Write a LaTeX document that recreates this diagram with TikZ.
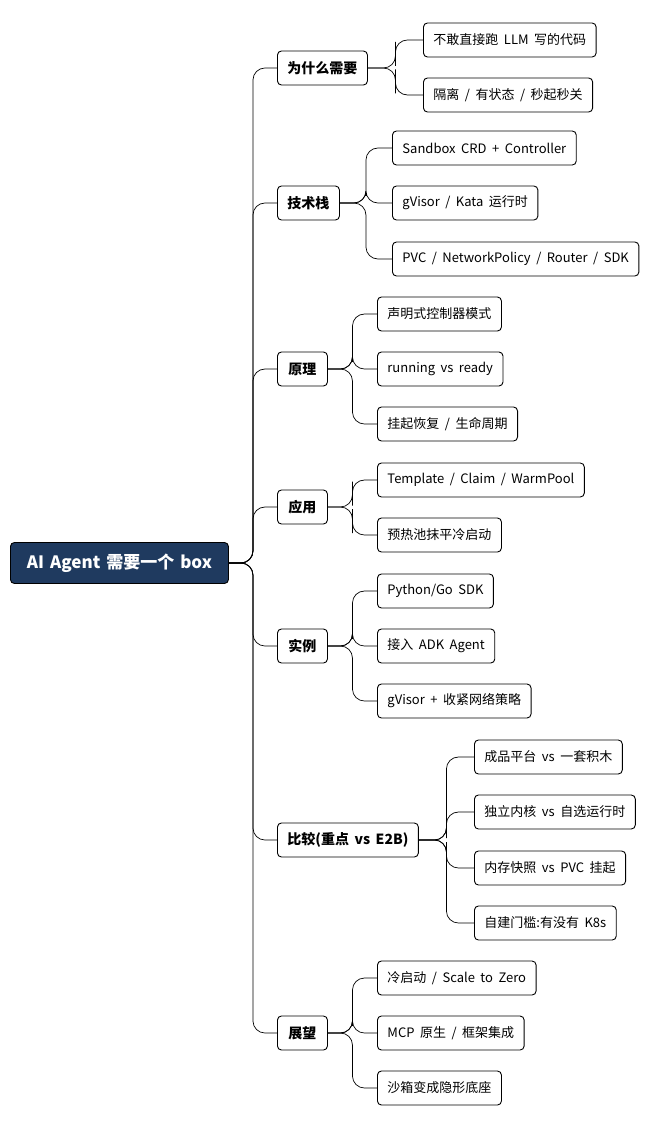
\documentclass[tikz,border=0pt]{standalone}
\usepackage{fontspec}
\setmainfont{Noto Sans CJK SC}
\usetikzlibrary{calc}
\definecolor{rootblue}{HTML}{1F3A5F}
\newcommand\leaffont{\fontsize{13}{15}\selectfont\spaceskip 5.5pt\relax}
\newcommand\branchfont{\fontsize{14}{16}\selectfont\bfseries\spaceskip 5.5pt\relax}
\newcommand\rootfont{\fontsize{17}{19}\selectfont\bfseries\spaceskip 6pt\relax}
\tikzset{
  leaf/.style={draw, rounded corners=4pt, anchor=west, inner xsep=10pt, minimum height=34pt, font=\leaffont, line width=0.9pt},
  branch/.style={leaf, minimum width=50pt, font=\branchfont},
  root/.style={leaf, fill=rootblue, text=white, minimum height=41pt, minimum width=218pt, font=\rootfont},
  link/.style={line width=0.7pt, rounded corners=12pt}
}
\begin{document}
\begin{tikzpicture}[x=1pt,y=-1pt]
	\useasboundingbox (0,0) rectangle (658,1126);
	
	\node[root] (ai) at (10,563) {AI Agent 需要一个 box};
	
	\node[branch] (why) at (277,68) {为什么需要};
	\node[branch] (tech) at (277,203) {技术栈};
	\node[branch] (prin) at (277,369) {原理};
	\node[branch] (app) at (277,507) {应用};
	\node[branch] (ex) at (277,646) {实例};
	\node[branch] (cmp) at (277,840) {比较(重点 vs E2B)};
	\node[branch] (out) at (277,1033) {展望};
	
	\node[leaf] (why1) at (423,40) {不敢直接跑 LLM 写的代码};
	\node[leaf] (why2) at (423,95) {隔离 / 有状态 / 秒起秒关};
	
	\node[leaf] (tech1) at (392,148) {Sandbox CRD + Controller};
	\node[leaf] (tech2) at (392,203) {gVisor / Kata 运行时};
	\node[leaf] (tech3) at (392,259) {PVC / NetworkPolicy / Router / SDK};
	
	\node[leaf] (prin1) at (377,314) {声明式控制器模式};
	\node[leaf] (prin2) at (377,369) {running vs ready};
	\node[leaf] (prin3) at (377,424) {挂起恢复 / 生命周期};
	
	\node[leaf] (app1) at (377,480) {Template / Claim / WarmPool};
	\node[leaf] (app2) at (377,535) {预热池抹平冷启动};
	
	\node[leaf] (ex1) at (377,591) {Python/Go SDK};
	\node[leaf] (ex2) at (377,646) {接入 ADK Agent};
	\node[leaf] (ex3) at (377,701) {gVisor + 收紧网络策略};
	
	\node[leaf] (cmp1) at (474,757) {成品平台 vs 一套积木};
	\node[leaf] (cmp2) at (474,812) {独立内核 vs 自选运行时};
	\node[leaf] (cmp3) at (474,868) {内存快照 vs PVC 挂起};
	\node[leaf] (cmp4) at (474,923) {自建门槛:有没有 K8s};
	
	\node[leaf] (out1) at (377,978) {冷启动 / Scale to Zero};
	\node[leaf] (out2) at (377,1033) {MCP 原生 / 框架集成};
	\node[leaf] (out3) at (377,1088) {沙箱变成隐形底座};
	
	% connectors
	\foreach \a/\b in {ai/why,ai/tech,ai/prin,ai/app,ai/ex,ai/cmp,ai/out,
		why/why1,why/why2,tech/tech1,tech/tech2,tech/tech3,
		prin/prin1,prin/prin2,prin/prin3,app/app1,app/app2,
		ex/ex1,ex/ex2,ex/ex3,cmp/cmp1,cmp/cmp2,cmp/cmp3,cmp/cmp4,
		out/out1,out/out2,out/out3}
		\draw[link] (\a.east) -| ($(\a.east)!.5!(\b.west)$) |- (\b.west);
\end{tikzpicture}
\end{document}
